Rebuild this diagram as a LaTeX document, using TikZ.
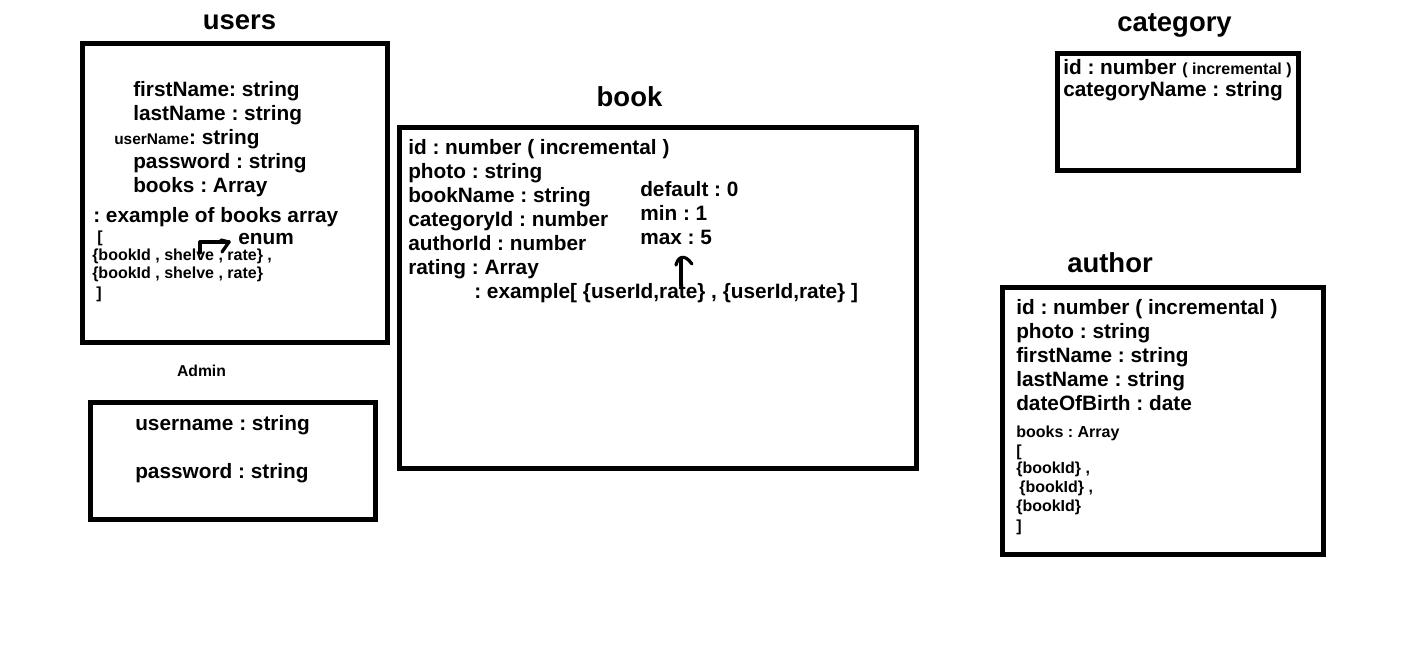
\documentclass[tikz,border=0pt]{standalone}
\usepackage{fontspec}
\setmainfont{Liberation Sans}
\frenchspacing
\newcommand{\mfont}{\fontsize{15.6}{18}\selectfont\bfseries}
\newcommand{\sfontx}{\fontsize{12}{14}\selectfont\bfseries}
\tikzset{
  box/.style={draw, line width=3.75pt, inner sep=0pt, outer sep=0pt},
  txt/.style={anchor=base west, inner sep=0pt, font=\mfont},
  sml/.style={anchor=base west, inner sep=0pt, font=\sfontx},
  ttl/.style={anchor=base, inner sep=0pt, font=\fontsize{20.6}{24}\selectfont\bfseries},
  arr/.style={line width=2.4pt, line cap=round, line join=round},
}
\begin{document}
\begin{tikzpicture}[x=0.75pt,y=-0.75pt]
\useasboundingbox[fill=white] (0,0) rectangle (1403,648);

% ---------- users ----------
\node[ttl] (usersT) at (239.5,30) {users};
\node[box, minimum width=229.1pt, minimum height=223.9pt] (users) at (235.25,193.25) {};
\node[txt] (u1) at (133,97) {firstName: string};
\node[txt] (u2) at (133,121) {lastName : string};
\node[txt] (u3) at (114,145) {{\fontsize{11.6}{14}\selectfont userName}: string};
\node[txt] (u4) at (133,169) {password : string};
\node[txt] (u5) at (133,193) {books : Array};
\node[txt] (u6) at (93,223) {: example of books array};
\node[sml] (u7) at (97,243) {[};
\node[txt] (uenum) at (238,245) {enum};
\node[sml] (u8) at (92,261) {\{bookId , shelve , rate\} ,};
\node[sml] (u9) at (92,279) {\{bookId , shelve , rate\}};
\node[sml] (u10) at (96,299) {]};
\coordinate (ea) at (200,253);
\coordinate (eb) at (229,242);
\draw[arr] (ea) |- (eb);
\draw[arr] (eb) -- ++(-7,10);
\draw[arr] (eb) -- ++(-8,-2);

% ---------- Admin ----------
\node[anchor=base, inner sep=0pt, font=\fontsize{11.8}{14}\selectfont\bfseries] (adminT) at (201.5,377) {Admin};
\node[box, minimum width=213.75pt, minimum height=87pt] (admin) at (232.5,461) {};
\node[txt] (a1) at (135,431) {username : string};
\node[txt] (a2) at (135,479) {password : string};

% ---------- book ----------
\node[ttl] (bookT) at (629.5,107) {book};
\node[box, minimum width=387.4pt, minimum height=255pt] (book) at (658.25,298) {};
\node[txt] (b1) at (408,155) {id : number ( incremental )};
\node[txt] (b2) at (408,179) {photo : string};
\node[txt] (b3) at (408,203) {bookName : string};
\node[txt] (b4) at (408,227) {categoryId : number};
\node[txt] (b5) at (408,251) {authorId : number};
\node[txt] (b6) at (408,275) {rating : Array};
\node[txt] (b7) at (474,299) {: example[ \{userId,rate\} , \{userId,rate\} ]};
\node[txt] (b8) at (640,197) {default : 0};
\node[txt] (b9) at (640,221) {min : 1};
\node[txt] (b10) at (640,245) {max : 5};
\coordinate (ba) at (681,286);
\coordinate (bb) at (681,259);
\draw[arr] (ba) -- (bb);
\draw[arr] (676,265) .. controls (678,257) and (684,253) .. (692,264);

% ---------- category ----------
\node[ttl] (catT) at (1174.5,32) {category};
\node[box, minimum width=181.1pt, minimum height=88.1pt] (cat) at (1178.25,111.75) {};
\node[txt] (c1) at (1063,75) {id : number {\sfontx ( incremental )}};
\node[txt] (c2) at (1063,97) {categoryName : string};

% ---------- author ----------
\node[ttl] (authT) at (1110,273) {author};
\node[box, minimum width=241.1pt, minimum height=200.25pt] (auth) at (1163.25,421) {};
\node[txt] (r1) at (1016,315) {id : number ( incremental )};
\node[txt] (r2) at (1016,339) {photo : string};
\node[txt] (r3) at (1016,363) {firstName : string};
\node[txt] (r4) at (1016,387) {lastName : string};
\node[txt] (r5) at (1016,411) {dateOfBirth : date};
\node[sml] (r6) at (1016,437) {books : Array};
\node[sml] (r7) at (1016,456) {[};
\node[sml] (r8) at (1016,474) {\{bookId\} ,};
\node[sml] (r9) at (1019,493) {\{bookId\} ,};
\node[sml] (r10) at (1016,511) {\{bookId\}};
\node[sml] (r11) at (1016,531) {]};
\end{tikzpicture}
\end{document}
